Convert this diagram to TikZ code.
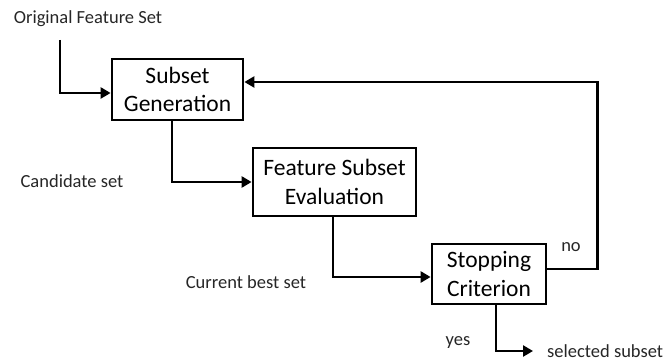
\documentclass[tikz,border=0pt]{standalone}
\usepackage{fontspec}
\setmainfont{Carlito}
\usetikzlibrary{arrows.meta,positioning}

\begin{document}
\begin{tikzpicture}[x=1pt,y=-1pt,
  box/.style={draw, line width=2.8pt, align=center, inner sep=0pt,
    font=\fontsize{23.5}{28.5}\selectfont},
  lbl/.style={text=black!85, inner sep=0pt, font=\fontsize{18.5}{22}\selectfont},
  arr/.style={line width=2.8pt, -{Triangle[length=10pt,width=11pt]}}]
\useasboundingbox (0,0) rectangle (668,363);

% blocks
\node[box, minimum width=131pt, minimum height=61pt] (gen) at (177.5,89.5) {Subset\\Generation};
\node[box, minimum width=163pt, minimum height=68pt] (eval) at (334.5,182) {Feature Subset\\Evaluation};
\node[box, minimum width=114pt, minimum height=60pt] (stop) at (489,274) {Stopping\\Criterion};

% labels
\node[lbl] (orig) at (88,19) {Original Feature Set};
\node[lbl] (cand) at (72,181) {Candidate set};
\node[lbl] (best) at (246,282) {Current best set};
\node[lbl] (no) at (571,247) {no};
\node[lbl] (yes) at (458,343) {yes};
\node[lbl, anchor=west, inner xsep=14pt] (sel) at (533,351) {selected subset};
\coordinate (in) at (60,40);

% flow
\draw[arr] (in) |- ([yshift=-3.5pt]gen.west);
\draw[arr] ([xshift=-5.5pt]gen.south) |- (eval.west);
\draw[arr] ([xshift=-1.5pt]eval.south) |- ([yshift=-3pt]stop.west);
\draw[arr] ([yshift=5pt]stop.east) -- ++(50,0) |- ([yshift=7.5pt]gen.east);
\draw[arr] ([xshift=7pt]stop.south) |- (sel.west);
\end{tikzpicture}
\end{document}
